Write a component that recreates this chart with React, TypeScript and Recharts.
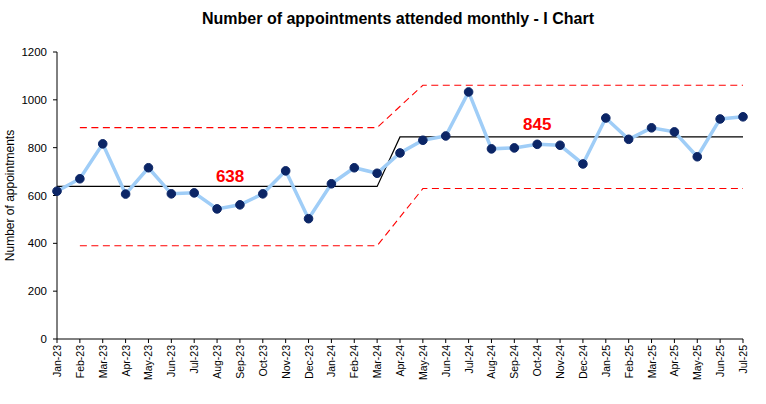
import React from 'react';
import { LineChart, Line, XAxis, YAxis, ReferenceDot } from 'recharts';

const months = [
  'Jan-23', 'Feb-23', 'Mar-23', 'Apr-23', 'May-23', 'Jun-23', 'Jul-23', 'Aug-23', 'Sep-23', 'Oct-23', 'Nov-23', 'Dec-23',
  'Jan-24', 'Feb-24', 'Mar-24', 'Apr-24', 'May-24', 'Jun-24', 'Jul-24', 'Aug-24', 'Sep-24', 'Oct-24', 'Nov-24', 'Dec-24',
  'Jan-25', 'Feb-25', 'Mar-25', 'Apr-25', 'May-25', 'Jun-25', 'Jul-25',
];

const attended = [
  618, 670, 816, 606, 716, 607, 611, 544, 561, 607, 703, 503,
  649, 716, 693, 778, 831, 849, 1033, 795, 799, 814, 810, 732,
  924, 835, 883, 866, 762, 920, 929,
];

const centre = [
  638, 638, 638, 638, 638, 638, 638, 638, 638, 638, 638, 638,
  638, 638, 638, 845, 845, 845, 845, 845, 845, 845, 845, 845,
  845, 845, 845, 845, 845, 845, 845,
];

const upper = [
  null, 884, 884, 884, 884, 884, 884, 884, 884, 884, 884, 884,
  884, 884, 884, null, 1061, 1061, 1061, 1061, 1061, 1061, 1061, 1061,
  1061, 1061, 1061, 1061, 1061, 1061, 1061,
];

const lower = [
  null, 390, 390, 390, 390, 390, 390, 390, 390, 390, 390, 390,
  390, 390, 390, null, 629, 629, 629, 629, 629, 629, 629, 629,
  629, 629, 629, 629, 629, 629, 629,
];

const yTicks = [0, 200, 400, 600, 800, 1000, 1200];

const data = months.map((m, i) => ({
  month: m,
  attended: attended[i],
  centre: centre[i],
  upper: upper[i],
  lower: lower[i],
}));

const font = 'Arial, "Liberation Sans", sans-serif';

const MonthTick = ({ x, y, payload }: any) => (
  <g transform={`translate(${x},${y})`}>
    <text
      x={0}
      y={0}
      textAnchor="end"
      dominantBaseline="central"
      transform="rotate(-90)"
      fontSize={10.5}
      fontFamily={font}
      fill="#000"
    >
      {payload.value}
    </text>
  </g>
);

const YLabel = ({ viewBox }: any) => {
  const cx = 10;
  const cy = viewBox.y + viewBox.height / 2;
  return (
    <text
      x={cx}
      y={cy}
      transform={`rotate(-90, ${cx}, ${cy})`}
      textAnchor="middle"
      dominantBaseline="central"
      fontSize={12}
      fontFamily={font}
      fill="#000"
    >
      Number of appointments
    </text>
  );
};

const App: React.FC = () => {
  return (
    <div style={{ position: 'absolute', left: 0, top: 0, width: 766, height: 404, background: '#fff' }}>
      <div
        style={{
          position: 'absolute',
          top: 10,
          left: 15,
          width: 766,
          textAlign: 'center',
          fontFamily: font,
          fontWeight: 'bold',
          fontSize: 16,
          color: '#000',
        }}
      >
        Number of appointments attended monthly - I Chart
      </div>
      <LineChart
        width={766}
        height={404}
        data={data}
        margin={{ top: 52, right: 23, left: 0, bottom: 5 }}
      >
        <XAxis
          dataKey="month"
          interval={0}
          height={60}
          tick={<MonthTick />}
          tickSize={4}
          tickMargin={2}
          axisLine={{ stroke: '#000' }}
          tickLine={{ stroke: '#000' }}
        />
        <YAxis
          domain={[0, 1200]}
          ticks={yTicks}
          width={57}
          tickSize={4}
          tickMargin={6}
          tick={{ fontSize: 11.5, fill: '#000', fontFamily: font }}
          axisLine={{ stroke: '#000' }}
          tickLine={{ stroke: '#000' }}
          label={<YLabel />}
        />
        <Line
          dataKey="upper"
          stroke="#ff0000"
          strokeWidth={1.1}
          strokeDasharray="7 4.5"
          dot={false}
          connectNulls
          isAnimationActive={false}
        />
        <Line
          dataKey="lower"
          stroke="#ff0000"
          strokeWidth={1.1}
          strokeDasharray="7 4.5"
          dot={false}
          connectNulls
          isAnimationActive={false}
        />
        <Line
          dataKey="centre"
          stroke="#000"
          strokeWidth={1.2}
          dot={false}
          isAnimationActive={false}
        />
        <Line
          dataKey="attended"
          stroke="#9fcdf7"
          strokeWidth={3.5}
          dot={{ r: 4.3, fill: '#0b2566', stroke: '#0b2566', strokeWidth: 1 }}
          isAnimationActive={false}
        />
        <ReferenceDot
          x="Aug-23"
          y={638}
          r={0}
          fill="none"
          stroke="none"
          label={{ value: '638', position: 'top', offset: 4, dx: 13, fill: '#ff0000', fontSize: 17, fontWeight: 'bold', fontFamily: font }}
        />
        <ReferenceDot
          x="Oct-24"
          y={845}
          r={0}
          fill="none"
          stroke="none"
          label={{ value: '845', position: 'top', offset: 7, fill: '#ff0000', fontSize: 17, fontWeight: 'bold', fontFamily: font }}
        />
      </LineChart>
    </div>
  );
};

export default App;
